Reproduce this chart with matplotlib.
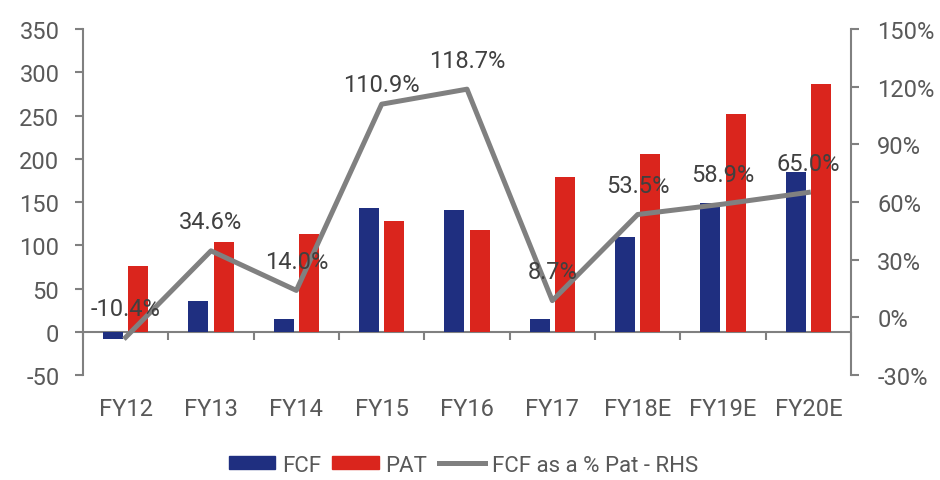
import numpy as np
import matplotlib.pyplot as plt
from matplotlib.ticker import FuncFormatter
from matplotlib.patches import Patch
from matplotlib.lines import Line2D

years = ['FY12', 'FY13', 'FY14', 'FY15', 'FY16', 'FY17', 'FY18E', 'FY19E', 'FY20E']
fcf = [-8, 36, 15, 143, 141, 15, 110, 149, 185]
pat = [76, 104, 113, 128, 118, 179, 206, 252, 287]
fcf_pct = [-10.4, 34.6, 14.0, 110.9, 118.7, 8.7, 53.5, 58.9, 65.0]

navy = '#1F2F80'
red = '#DA251D'
grey = '#808080'
txt = '#404040'

plt.rcParams['font.family'] = 'Roboto'
plt.rcParams['font.size'] = 17

fig = plt.figure(figsize=(9.4, 4.81), dpi=100)
ax = fig.add_axes([0.0883, 0.2183, 0.8170, 0.7193])
x = np.arange(len(years))
w = 0.235
ax.bar(x - 0.147, fcf, w, color=navy, zorder=2)
ax.bar(x + 0.147, pat, w, color=red, zorder=2)
ax.set_xlim(-0.5, len(years) - 0.5)
ax.set_ylim(-50, 350)
ax.set_yticks(range(-50, 351, 50))
ax.yaxis.set_major_formatter(FuncFormatter(lambda v, p: '%d' % v))
ax.axhline(0, color=grey, lw=1.5, zorder=1)

for s in ['top', 'right', 'bottom']:
    ax.spines[s].set_visible(False)
ax.spines['left'].set_color(grey)
ax.spines['left'].set_linewidth(1.5)
ax.tick_params(axis='y', colors='#595959', length=6, width=1.5, pad=11, color=grey)
ax.set_xticks(x)
ax.set_xticklabels(years)
ax.tick_params(axis='x', length=0, pad=16, colors='#595959')

# category separator ticks on the zero line
sec = ax.secondary_xaxis(50 / 400)
sec.set_xticks(np.arange(-0.5, len(years), 1.0))
sec.set_xticklabels([])
sec.spines['bottom'].set_visible(False)
sec.tick_params(axis='x', length=6, width=1.5, color=grey)

ax2 = ax.twinx()
ax2.plot(x, fcf_pct, color=grey, lw=3.6, zorder=3)
ax2.set_ylim(-30, 150)
ax2.set_yticks(range(-30, 151, 30))
ax2.yaxis.set_major_formatter(FuncFormatter(lambda v, p: '%d%%' % v))
for s in ['top', 'left', 'bottom']:
    ax2.spines[s].set_visible(False)
ax2.spines['right'].set_color(grey)
ax2.spines['right'].set_linewidth(1.5)
ax2.tick_params(axis='y', colors='#595959', length=6, width=1.5, pad=13, color=grey)

for i, (xi, v) in enumerate(zip(x, fcf_pct)):
    dy = 14 if i == 3 else 21
    ax2.annotate('%.1f%%' % v, (xi, v), xytext=(0, dy), textcoords='offset points',
                 ha='center', va='center', color=txt, fontsize=17)

handles = [Patch(color=navy), Patch(color=red), Line2D([], [], color=grey, lw=3.6)]
fig.legend(handles, ['FCF', 'PAT', 'FCF as a % Pat - RHS'], loc='center',
           bbox_to_anchor=(0.493, 0.031), ncol=3, frameon=False, handlelength=2.1,
           handleheight=0.5, columnspacing=0.5, handletextpad=0.3, labelcolor='#595959',
           fontsize=16)

fig.savefig('out.png', dpi=100)
